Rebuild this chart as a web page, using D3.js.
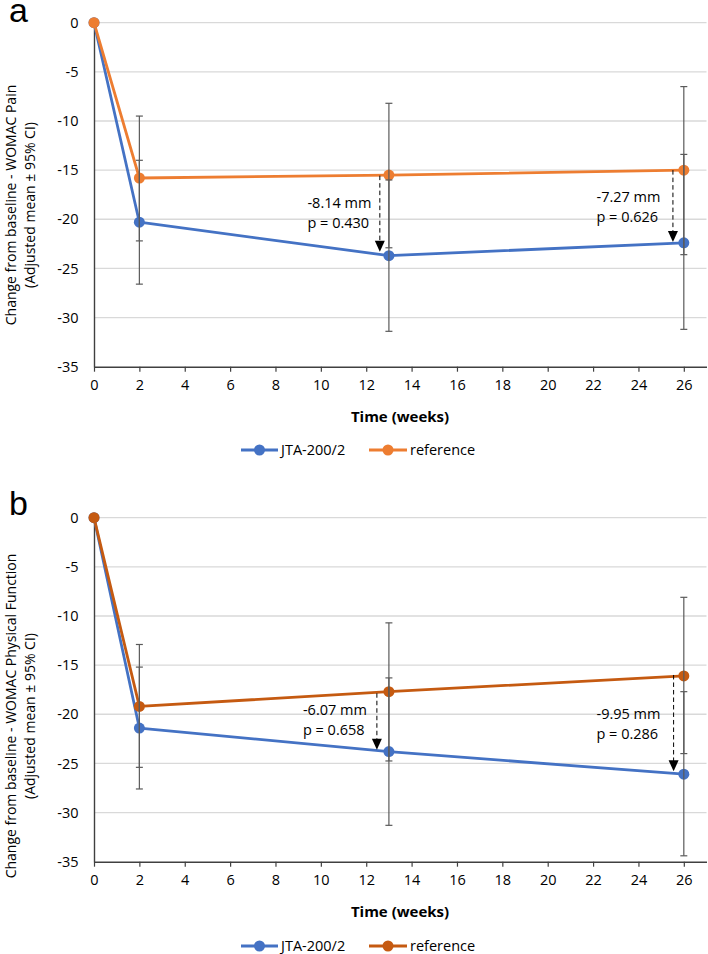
<!DOCTYPE html>
<html><head><meta charset="utf-8">
<script src="https://cdn.jsdelivr.net/npm/d3@7"></script>
<style>
body{margin:0;background:#fff}
svg{display:block}
text{font-family:'Open Sans',sans-serif;fill:#000}
</style>
</head><body>
<svg id="c" width="708" height="954"></svg>
<script>
// ---------- data ----------
const weeks = [0, 2, 13, 26];
const xTicks = [0, 2, 4, 6, 8, 10, 12, 14, 16, 18, 20, 22, 24, 26];
const yTicks = [0, -5, -10, -15, -20, -25, -30, -35];
const seriesNames = ["JTA-200/2", "reference"];

// Panel a: WOMAC Pain
const painJTA   = [0, -20.3, -23.7, -22.4];
const painJTALo = [0, -26.6, -31.4, -31.2];
const painJTAHi = [0, -14.0, -16.0, -13.4];
const painRef   = [0, -15.8, -15.5, -15.0];
const painRefLo = [0, -22.2, -22.9, -23.6];
const painRefHi = [0, -9.5, -8.2, -6.5];
const painNotes = [
  {week: 12.6, from: -15.56, to: -23.3, labelWeek: 9.41, labelValue: -18.37, lines: ["-8.14 mm", "p = 0.430"]},
  {week: 25.52, from: -15.0, to: -22.3, labelWeek: 22.15, labelValue: -17.70, lines: ["-7.27 mm", "p = 0.626"]}
];

// Panel b: WOMAC Physical Function
const funcJTA   = [0, -21.4, -23.8, -26.1];
const funcJTALo = [0, -27.6, -31.3, -34.4];
const funcJTAHi = [0, -15.2, -16.3, -17.7];
const funcRef   = [0, -19.2, -17.7, -16.1];
const funcRefLo = [0, -25.4, -24.75, -24.0];
const funcRefHi = [0, -12.9, -10.7, -8.1];
const funcNotes = [
  {week: 12.47, from: -17.86, to: -23.6, labelWeek: 9.21, labelValue: -19.56, lines: ["-6.07 mm", "p = 0.658"]},
  {week: 25.55, from: -16.0, to: -25.8, labelWeek: 22.15, labelValue: -19.97, lines: ["-9.95 mm", "p = 0.286"]}
];

// ---------- drawing ----------
const svg = d3.select("#c");
const BLUE = "#4472C4";
const AXIS = "#404040";
const ERR = "#5a5a5a";

function panel(opts) {
  const g = svg.append("g");
  const x = d3.scaleLinear().domain([0, 27]).range([94, 706.5]);
  const y = d3.scaleLinear().domain([-35, 0]).range([opts.top + 344, opts.top]);

  // panel letter
  g.append("text").attr("x", 9).attr("y", opts.letterY)
    .style("font-family", "'Liberation Sans',Arial,sans-serif")
    .style("font-size", "34px").text(opts.letter);

  // gridlines
  g.append("g").selectAll("line").data(yTicks.filter(t => t > -35)).join("line")
    .attr("x1", x(0)).attr("x2", x(27))
    .attr("y1", d => y(d)).attr("y2", d => y(d))
    .attr("stroke", "#d9d9d9").attr("stroke-width", 1.3);

  // x axis
  const xa = g.append("g").attr("transform", `translate(0,${y(-35)})`)
    .call(d3.axisBottom(x).tickValues(xTicks).tickFormat(d => String(d))
      .tickSize(5).tickSizeOuter(0).tickPadding(8));
  xa.select(".domain").attr("stroke", AXIS).attr("stroke-width", 1.4);
  xa.selectAll(".tick line").attr("stroke", AXIS).attr("stroke-width", 1.2);
  xa.selectAll(".tick text").style("font-size", "14.5px").style("font-family", "'Open Sans',sans-serif").attr("fill", "#000");

  // y axis
  const ya = g.append("g").attr("transform", `translate(${x(0)},0)`)
    .call(d3.axisLeft(y).tickValues(yTicks).tickFormat(d => String(d))
      .tickSize(0).tickSizeOuter(0).tickPadding(15.5));
  ya.select(".domain").attr("stroke", AXIS).attr("stroke-width", 1.4);
  ya.selectAll(".tick text").style("font-size", "14.5px").style("font-family", "'Open Sans',sans-serif").attr("fill", "#000");

  // axis titles
  g.append("text").attr("x", 400).attr("y", y(-35) + 55)
    .attr("text-anchor", "middle").style("font-size", "15px").style("font-weight", "bold")
    .text("Time (weeks)");
  const yt = g.append("g").attr("transform", `translate(0,${opts.titleCenter}) rotate(-90)`);
  yt.append("text").attr("x", 0).attr("y", 16).attr("text-anchor", "middle")
    .style("font-size", "14px").text(opts.yTitle);
  yt.append("text").attr("x", 0).attr("y", 35).attr("text-anchor", "middle")
    .style("font-size", "14px").text("(Adjusted mean \u00b1 95% CI)");

  const line = d3.line().x(d => x(d[0])).y(d => y(d[1]));
  const series = [
    {name: seriesNames[0], color: BLUE, vals: opts.jta, lo: opts.jtaLo, hi: opts.jtaHi},
    {name: seriesNames[1], color: opts.refColor, vals: opts.ref, lo: opts.refLo, hi: opts.refHi}
  ];

  series.forEach(s => {
    g.append("path").datum(weeks.map((w, i) => [w, s.vals[i]]))
      .attr("d", line).attr("fill", "none").attr("stroke", s.color)
      .attr("stroke-width", 2.8).attr("stroke-linejoin", "round");
  });
  series.forEach(s => {
    g.append("g").selectAll("circle").data(weeks.map((w, i) => [w, s.vals[i]])).join("circle")
      .attr("cx", d => x(d[0])).attr("cy", d => y(d[1])).attr("r", 5.5).attr("fill", s.color);
  });
  // error bars
  series.forEach(s => {
    const eb = g.append("g").attr("stroke", ERR).attr("stroke-width", 1.2);
    weeks.forEach((w, i) => {
      if (s.lo[i] === s.hi[i]) return;
      const cx = x(w);
      eb.append("line").attr("x1", cx).attr("x2", cx).attr("y1", y(s.hi[i])).attr("y2", y(s.lo[i]));
      [s.hi[i], s.lo[i]].forEach(v => {
        eb.append("line").attr("x1", cx - 3.5).attr("x2", cx + 3.5).attr("y1", y(v)).attr("y2", y(v));
      });
    });
  });

  // annotations
  opts.notes.forEach(n => {
    const ax = x(n.week);
    g.append("line").attr("x1", ax).attr("x2", ax).attr("y1", y(n.from)).attr("y2", y(n.to) - 9)
      .attr("stroke", "#000").attr("stroke-width", 1).attr("stroke-dasharray", "4.5,3");
    g.append("path")
      .attr("d", `M${ax - 5},${y(n.to) - 11}L${ax + 5},${y(n.to) - 11}L${ax},${y(n.to)}Z`)
      .attr("fill", "#000");
    n.lines.forEach((t, k) => {
      g.append("text").attr("x", x(n.labelWeek)).attr("y", y(n.labelValue) + k * 19.8)
        .attr("dy", "0.36em").style("font-size", "14.5px").text(t);
    });
  });

  // legend
  const lg = g.append("g");
  const items = [
    {name: seriesNames[0], color: BLUE, x0: 241, x1: 278, tx: 281},
    {name: seriesNames[1], color: opts.refColor, x0: 369, x1: 407, tx: 410}
  ];
  items.forEach(it => {
    lg.append("line").attr("x1", it.x0).attr("x2", it.x1).attr("y1", opts.legendY).attr("y2", opts.legendY)
      .attr("stroke", it.color).attr("stroke-width", 2.8);
    lg.append("circle").attr("cx", (it.x0 + it.x1) / 2).attr("cy", opts.legendY).attr("r", 5.5).attr("fill", it.color);
    lg.append("text").attr("x", it.tx).attr("y", opts.legendY).attr("dy", "0.36em")
      .style("font-size", "14.5px").text(it.name);
  });
}

panel({
  top: 22.7, letter: "a", letterY: 22, titleCenter: 205, legendY: 450,
  yTitle: "Change from baseline - WOMAC Pain", refColor: "#ED7D31",
  jta: painJTA, jtaLo: painJTALo, jtaHi: painJTAHi,
  ref: painRef, refLo: painRefLo, refHi: painRefHi, notes: painNotes
});
panel({
  top: 517.7, letter: "b", letterY: 515, titleCenter: 716, legendY: 946,
  yTitle: "Change from baseline - WOMAC Physical Function", refColor: "#C55A11",
  jta: funcJTA, jtaLo: funcJTALo, jtaHi: funcJTAHi,
  ref: funcRef, refLo: funcRefLo, refHi: funcRefHi, notes: funcNotes
});
</script>
</body></html>
